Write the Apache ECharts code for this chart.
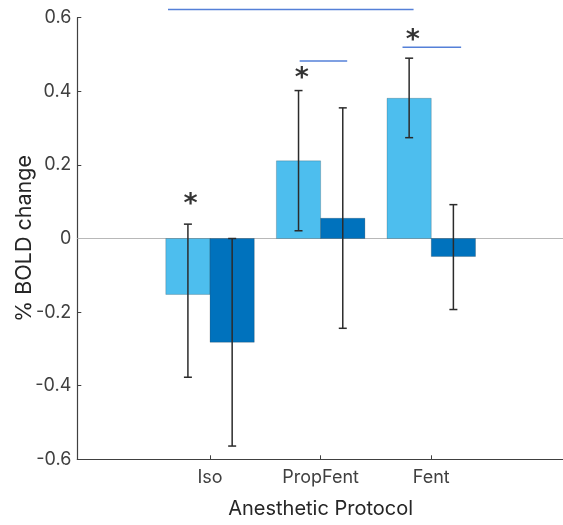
<!DOCTYPE html>
<html>
<head>
<meta charset="utf-8">
<script src="https://cdn.jsdelivr.net/npm/echarts@6/dist/echarts.min.js"></script>
<style>html,body{margin:0;padding:0;background:#fff}#c{width:563px;height:525px}</style>
</head>
<body>
<div id="c"></div>
<script>
// ---- data ----
const categories = ['Iso', 'PropFent', 'Fent'];
const categoryPos = [1, 2, 3];
const lightValues = [-0.152, 0.211, 0.381];
const lightErrHigh = [0.039, 0.402, 0.490];
const lightErrLow = [-0.377, 0.021, 0.274];
const darkValues = [-0.282, 0.055, -0.049];
const darkErrHigh = [0.0, 0.355, 0.092];
const darkErrLow = [-0.564, -0.244, -0.193];
// significance bars: [xStart, xEnd, y]
const sigLines = [[0.62, 2.84, 0.622], [1.81, 2.24, 0.482], [2.74, 3.27, 0.520]];
// asterisks: [x, y]
const asterisks = [[0.823, 0.110], [1.830, 0.452], [2.833, 0.556]];
const yTicks = [-0.6, -0.4, -0.2, 0, 0.2, 0.4, 0.6];

const BAR_W = 0.4;
const LIGHT = '#4DBEEE';
const DARK = '#0072BD';
const SIG = '#5580D8';
const FONT = 'Inter, "Liberation Sans", Arial, sans-serif';

function barData(vals, side) {
  return categoryPos.map((c, i) => [c, vals[i], side]);
}
function errData(vals, lo, hi, side) {
  return categoryPos.map((c, i) => [c + side * BAR_W / 2, lo[i], hi[i], vals[i]]);
}

function renderBar(params, api) {
  const c = api.value(0), v = api.value(1), side = api.value(2);
  const x0 = side < 0 ? c - BAR_W : c;
  const x1 = side < 0 ? c : c + BAR_W;
  const p0 = api.coord([x0, v]);
  const p1 = api.coord([x1, 0]);
  return {
    type: 'rect',
    shape: {
      x: Math.min(p0[0], p1[0]), y: Math.min(p0[1], p1[1]),
      width: Math.abs(p1[0] - p0[0]), height: Math.abs(p1[1] - p0[1])
    },
    style: { fill: api.visual('color'), stroke: 'rgba(0,0,0,0.18)', lineWidth: 1 }
  };
}
function renderErr(params, api) {
  const x = api.value(0);
  const lo = api.coord([x, api.value(1)]);
  const hi = api.coord([x, api.value(2)]);
  const cap = 4;
  const st = { stroke: '#2b2b2b', lineWidth: 1.5 };
  return {
    type: 'group',
    children: [
      { type: 'line', shape: { x1: lo[0], y1: lo[1], x2: hi[0], y2: hi[1] }, style: st },
      { type: 'line', shape: { x1: lo[0] - cap, y1: lo[1], x2: lo[0] + cap, y2: lo[1] }, style: st },
      { type: 'line', shape: { x1: hi[0] - cap, y1: hi[1], x2: hi[0] + cap, y2: hi[1] }, style: st }
    ]
  };
}

const series = [
  {
    type: 'custom', name: 'light', renderItem: renderBar, data: barData(lightValues, -1),
    itemStyle: { color: LIGHT }, z: 2, encode: { x: 0, y: 1 },
    markLine: {
      silent: true, symbol: 'none', label: { show: false },
      lineStyle: { color: '#b8b8b8', width: 1, type: 'solid' },
      data: [{ yAxis: 0 }], z: 1
    }
  },
  {
    type: 'custom', name: 'dark', renderItem: renderBar, data: barData(darkValues, 1),
    itemStyle: { color: DARK }, z: 2, encode: { x: 0, y: 1 }
  },
  {
    type: 'custom', renderItem: renderErr, data: errData(lightValues, lightErrLow, lightErrHigh, -1),
    z: 3, encode: { x: 0, y: [1, 2] }
  },
  {
    type: 'custom', renderItem: renderErr, data: errData(darkValues, darkErrLow, darkErrHigh, 1),
    z: 3, encode: { x: 0, y: [1, 2] }
  }
];
sigLines.forEach(s => {
  series.push({
    type: 'line', data: [[s[0], s[2]], [s[1], s[2]]], symbol: 'none', silent: true, clip: false,
    lineStyle: { color: SIG, width: 1.5 }, z: 4
  });
});
series.push({
  type: 'scatter', data: asterisks, symbolSize: 0, silent: true, z: 5, clip: false,
  label: {
    show: true, position: 'inside', formatter: '*', color: '#000',
    fontFamily: '"DejaVu Sans", sans-serif', fontWeight: 'bold', fontSize: 27,
    offset: [0, 7]
  }
});

const chart = echarts.init(document.getElementById('c'), null, { renderer: 'canvas' });
chart.setOption({
  animation: false,
  grid: { left: 77.3, right: -1, top: 17.7, bottom: 65.7, containLabel: false, outerBoundsMode: 'none' },
  xAxis: {
    type: 'value', min: -0.2, max: 4.2,
    name: 'Anesthetic Protocol', nameLocation: 'middle', nameGap: 40, nameMoveOverlap: false,
    nameTextStyle: { fontFamily: FONT, fontSize: 20, color: '#262626' },
    axisLine: { show: true, onZero: false, lineStyle: { color: '#404040', width: 1.2 } },
    axisTick: { show: true, inside: true, length: 4, customValues: categoryPos, lineStyle: { color: '#404040' } },
    axisLabel: {
      show: true, customValues: categoryPos, margin: 9,
      fontFamily: FONT, fontSize: 18, color: '#404040',
      formatter: v => categories[categoryPos.indexOf(Math.round(v))] || ''
    },
    splitLine: { show: false }
  },
  yAxis: {
    type: 'value', min: -0.6, max: 0.6, interval: 0.2,
    name: '% BOLD change', nameLocation: 'middle', nameGap: 42, nameRotate: 90, nameMoveOverlap: false,
    nameTextStyle: { fontFamily: FONT, fontSize: 21.5, color: '#262626' },
    axisLine: { show: true, onZero: false, lineStyle: { color: '#404040', width: 1.2 } },
    axisTick: { show: true, inside: true, length: 4, lineStyle: { color: '#404040' } },
    axisLabel: {
      margin: 6, fontFamily: FONT, fontSize: 18, color: '#404040',
      formatter: v => { const t = yTicks.find(k => Math.abs(k - v) < 1e-9); return String(t === undefined ? +v.toFixed(1) : t); }
    },
    splitLine: { show: false }
  },
  series: series
});
</script>
</body>
</html>
